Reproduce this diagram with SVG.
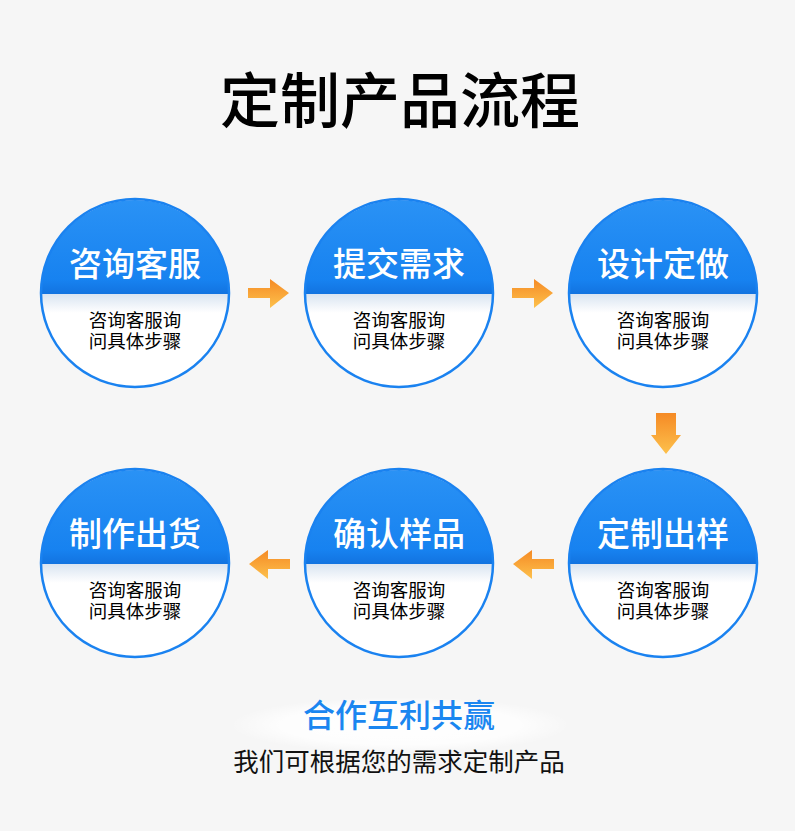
<svg xmlns="http://www.w3.org/2000/svg" xmlns:xlink="http://www.w3.org/1999/xlink" width="795" height="831" viewBox="0 0 795 831">
<style>
.t{font-family:"Noto Sans CJK SC","Noto Sans",sans-serif;text-anchor:middle}
.head{font-size:33px;fill:#fff;font-weight:500}
.sub{font-size:18.5px;fill:#000}
</style>
<defs>
<linearGradient id="top" x1="0" y1="0" x2="0" y2="1">
<stop offset="0" stop-color="#2a92f5"/><stop offset="0.85" stop-color="#1782f0"/><stop offset="1" stop-color="#1273e0"/>
</linearGradient>
<linearGradient id="bot" x1="0" y1="0" x2="0" y2="1">
<stop offset="0" stop-color="#d9e4f1"/><stop offset="0.2" stop-color="#ffffff"/><stop offset="1" stop-color="#ffffff"/>
</linearGradient>
<linearGradient id="arr" x1="0" y1="0" x2="0" y2="1">
<stop offset="0" stop-color="#f58a25"/><stop offset="1" stop-color="#fdc14c"/>
</linearGradient>
<radialGradient id="glow" cx="0.5" cy="0.5" r="0.5">
<stop offset="0" stop-color="#ffffff" stop-opacity="1"/><stop offset="0.7" stop-color="#ffffff" stop-opacity="0.8"/><stop offset="1" stop-color="#ffffff" stop-opacity="0"/>
</radialGradient>
<g id="disc">
<path d="M-94,1 A94,94 0 0 1 94,1 Z" fill="url(#top)"/>
<path d="M-94,1 A94,94 0 0 0 94,1 Z" fill="url(#bot)"/>
<circle r="94" fill="none" stroke="#1a82f0" stroke-width="2.5"/>
</g>
<path id="ar" d="M-21,-5 H1 V-14 L20,0 L1,15 V5 H-21 Z" fill="url(#arr)"/>
<path id="ad" d="M-10,-21 H10 V1 H15 L0,20 L-15,1 H-10 Z" fill="url(#arr)"/>
</defs>
<rect width="795" height="831" fill="#f6f6f6"/>
<text class="t" x="400" y="123" font-size="60" font-weight="500" fill="#000">定制产品流程</text>

<g id="node1"><use xlink:href="#disc" x="135" y="293"/><text class="t head" x="135" y="276">咨询客服</text><text class="t sub" x="135" y="327"><tspan x="135">咨询客服询</tspan><tspan x="135" dy="21">问具体步骤</tspan></text></g>
<g id="node2"><use xlink:href="#disc" x="399" y="293"/><text class="t head" x="399" y="276">提交需求</text><text class="t sub" x="399" y="327"><tspan x="399">咨询客服询</tspan><tspan x="399" dy="21">问具体步骤</tspan></text></g>
<g id="node3"><use xlink:href="#disc" x="663" y="293"/><text class="t head" x="663" y="276">设计定做</text><text class="t sub" x="663" y="327"><tspan x="663">咨询客服询</tspan><tspan x="663" dy="21">问具体步骤</tspan></text></g>
<g id="node4"><use xlink:href="#disc" x="663" y="563"/><text class="t head" x="663" y="546">定制出样</text><text class="t sub" x="663" y="597"><tspan x="663">咨询客服询</tspan><tspan x="663" dy="21">问具体步骤</tspan></text></g>
<g id="node5"><use xlink:href="#disc" x="399" y="563"/><text class="t head" x="399" y="546">确认样品</text><text class="t sub" x="399" y="597"><tspan x="399">咨询客服询</tspan><tspan x="399" dy="21">问具体步骤</tspan></text></g>
<g id="node6"><use xlink:href="#disc" x="135" y="563"/><text class="t head" x="135" y="546">制作出货</text><text class="t sub" x="135" y="597"><tspan x="135">咨询客服询</tspan><tspan x="135" dy="21">问具体步骤</tspan></text></g>

<g id="connectors">
<use xlink:href="#ar" x="269" y="293"/>
<use xlink:href="#ar" x="533" y="293"/>
<use xlink:href="#ad" x="666" y="434"/>
<use xlink:href="#ar" transform="translate(533,564) scale(-1,1)"/>
<use xlink:href="#ar" transform="translate(269,564) scale(-1,1)"/>
</g>

<ellipse cx="400" cy="725" rx="170" ry="28" fill="url(#glow)"/>
<text class="t" x="399" y="727" font-size="32" font-weight="500" fill="#1a86f0">合作互利共赢</text>
<text class="t" x="399" y="771" font-size="25.5" fill="#111">我们可根据您的需求定制产品</text>
</svg>
